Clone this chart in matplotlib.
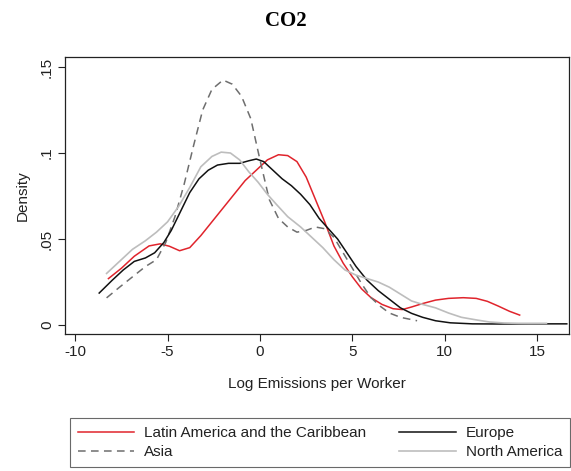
import matplotlib
matplotlib.use("Agg")
import matplotlib.pyplot as plt

plt.rcParams['font.family'] = ['Liberation Sans', 'DejaVu Sans']

# Latin America and the Caribbean
la_x = [-8.2, -7.5, -6.8, -6.0, -5.4, -4.9, -4.35, -3.8, -3.2, -2.6, -2.0, -1.4, -0.8, -0.2,
        0.4, 1.0, 1.5, 2.0, 2.5, 3.0, 3.5, 4.0, 4.5, 5.0, 5.5, 6.0, 6.6, 7.2, 7.7, 8.2, 8.8,
        9.5, 10.2, 11.0, 11.7, 12.3, 12.9, 13.5, 14.05]
la_y = [0.027, 0.033, 0.040, 0.046, 0.0472, 0.0458, 0.0432, 0.045, 0.052, 0.060, 0.068, 0.076,
        0.084, 0.090, 0.096, 0.099, 0.0985, 0.095, 0.086, 0.073, 0.060, 0.046, 0.036, 0.028,
        0.021, 0.016, 0.012, 0.0095, 0.009, 0.0105, 0.0125, 0.0145, 0.0155, 0.0159, 0.0155,
        0.0138, 0.011, 0.008, 0.0058]

# Europe
eu_x = [-8.7, -8.0, -7.4, -6.8, -6.2, -5.7, -5.2, -4.8, -4.3, -3.8, -3.3, -2.8, -2.3, -1.7,
        -1.1, -0.6, -0.2, 0.2, 0.7, 1.2, 1.7, 2.2, 2.7, 3.2, 3.7, 4.2, 4.7, 5.2, 5.8, 6.4, 7.0,
        7.6, 8.2, 8.8, 9.5, 10.3, 11.5, 13.0, 14.5, 16.6]
eu_y = [0.0186, 0.026, 0.032, 0.037, 0.039, 0.042, 0.048, 0.055, 0.066, 0.077, 0.085, 0.090,
        0.093, 0.094, 0.094, 0.0955, 0.0965, 0.095, 0.090, 0.085, 0.081, 0.076, 0.070, 0.062,
        0.056, 0.050, 0.042, 0.034, 0.026, 0.020, 0.015, 0.010, 0.0068, 0.0045, 0.0025,
        0.0013, 0.0007, 0.0006, 0.0007, 0.0007]

# Asia
as_x = [-8.3, -7.6, -6.9, -6.2, -5.6, -5.1, -4.6, -4.1, -3.6, -3.1, -2.6, -2.0, -1.5, -1.0,
        -0.5, 0.0, 0.5, 1.0, 1.5, 2.0, 2.5, 3.0, 3.5, 4.0, 4.5, 5.0, 5.5, 6.0, 6.5, 7.0, 7.6, 8.5]
as_y = [0.0158, 0.022, 0.028, 0.034, 0.038, 0.048, 0.063, 0.082, 0.104, 0.125, 0.137, 0.1424,
        0.140, 0.133, 0.120, 0.096, 0.073, 0.062, 0.057, 0.054, 0.055, 0.057, 0.056, 0.051,
        0.042, 0.033, 0.024, 0.016, 0.011, 0.007, 0.0045, 0.0025]

# North America
na_x = [-8.3, -7.6, -6.9, -6.2, -5.6, -5.0, -4.4, -3.8, -3.2, -2.6, -2.1, -1.6, -1.1, -0.6,
        -0.1, 0.4, 0.9, 1.5, 2.2, 2.8, 3.4, 4.0, 4.6, 5.2, 5.8, 6.4, 7.0, 7.6, 8.2, 8.8, 9.5,
        10.2, 10.9, 11.7, 12.4, 13.2, 14.0, 14.8, 15.5]
na_y = [0.030, 0.037, 0.044, 0.049, 0.054, 0.060, 0.069, 0.080, 0.092, 0.098, 0.1005, 0.100,
        0.096, 0.089, 0.083, 0.076, 0.070, 0.063, 0.057, 0.051, 0.045, 0.038, 0.032, 0.029,
        0.027, 0.025, 0.022, 0.018, 0.014, 0.012, 0.010, 0.007, 0.0045, 0.003, 0.0018,
        0.0012, 0.001, 0.001, 0.001]

x_ticks = [-10, -5, 0, 5, 10, 15]
x_tick_labels = ["-10", "-5", "0", "5", "10", "15"]
y_ticks = [0, 0.05, 0.1, 0.15]
y_tick_labels = ["0", ".05", ".1", ".15"]

TXT = "#222222"

fig = plt.figure(figsize=(5.71, 4.71), dpi=100)
ax = fig.add_axes([65/571, 137/471, 504/571, 277/471])

l_la, = ax.plot(la_x, la_y, color="#e0242c", lw=1.1, label="Latin America and the Caribbean")
l_as, = ax.plot(as_x, as_y, color="#6e6e6e", lw=1.1, dashes=(5, 3.5), label="Asia")
l_eu, = ax.plot(eu_x, eu_y, color="#111111", lw=1.1, label="Europe")
l_na, = ax.plot(na_x, na_y, color="#bdbdbd", lw=1.2, label="North America")

ax.set_xlim(-10.55, 16.72)
ax.set_ylim(-0.0052, 0.1558)
ax.set_xticks(x_ticks)
ax.set_xticklabels(x_tick_labels)
ax.set_yticks(y_ticks)
ax.set_yticklabels(y_tick_labels, rotation=90, va="center")
ax.tick_params(direction="out", length=5, width=0.8, labelsize=11, colors=TXT, pad=3)
for s in ax.spines.values():
    s.set_linewidth(0.9)
    s.set_color(TXT)

ax.set_ylabel("Density", fontsize=11, color=TXT, labelpad=7)
ax.set_xlabel("Log Emissions per Worker", fontsize=11, color=TXT, labelpad=13)

fig.text(0.5, 1 - 21/471, "CO2", ha="center", va="center", fontsize=15, fontweight="bold",
         family="Liberation Serif")

leg = fig.legend(handles=[l_la, l_as, l_eu, l_na], ncol=2, loc="lower left",
                 bbox_to_anchor=(70/571, 4/471, 500/571, 50/471), mode="expand",
                 fontsize=11, frameon=True, fancybox=False, handlelength=3.7,
                 handletextpad=0.65, borderaxespad=0, labelspacing=0.32, borderpad=0.52,
                 columnspacing=1.5)
for t in leg.get_texts():
    t.set_color(TXT)
leg.get_frame().set_edgecolor("#444444")
leg.get_frame().set_linewidth(0.8)

fig.savefig("out.png", dpi=100)
